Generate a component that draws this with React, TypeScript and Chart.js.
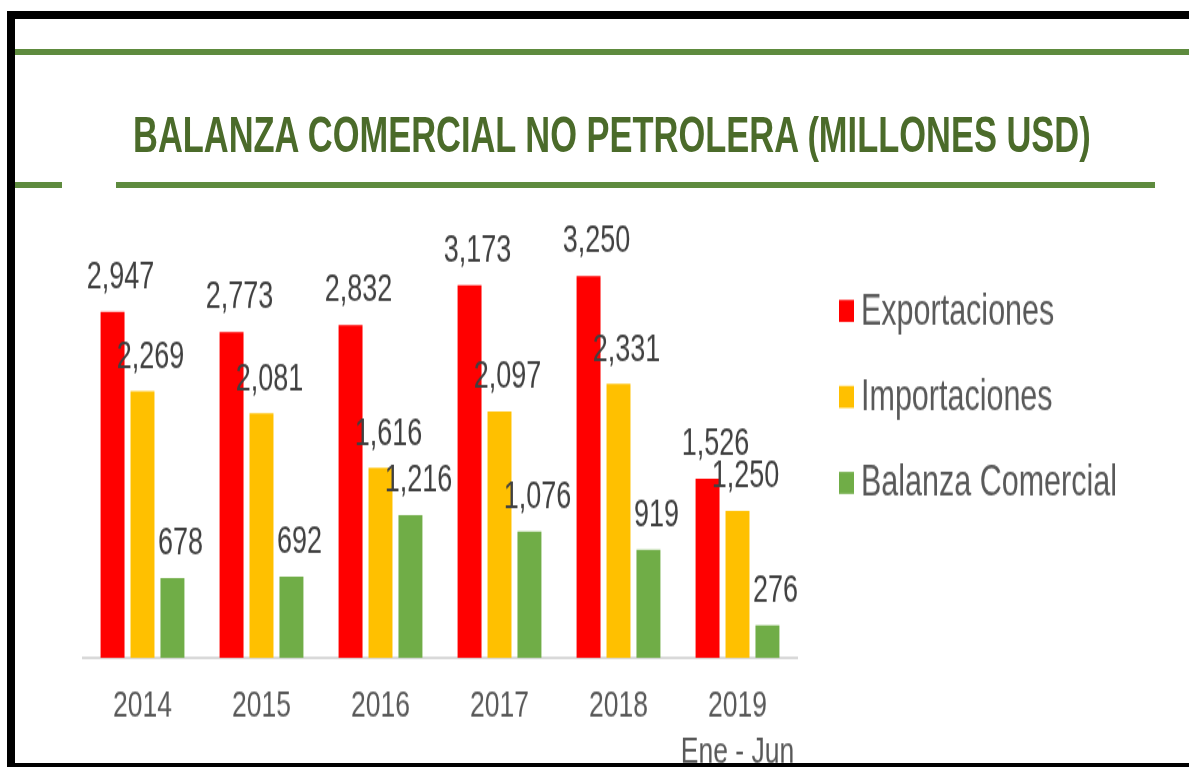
import React, { useEffect, useLayoutEffect, useRef, useState } from "react";
import { Chart, registerables } from "chart.js";

Chart.register(...registerables);

const categories: string[][] = [["2014"], ["2015"], ["2016"], ["2017"], ["2018"], ["2019", "Ene - Jun"]];
const exportaciones = [2947, 2773, 2832, 3173, 3250, 1526];
const importaciones = [2269, 2081, 1616, 2097, 2331, 1250];
const balanza = [678, 692, 1216, 1076, 919, 276];
const seriesNames = ["Exportaciones", "Importaciones", "Balanza Comercial"];
const seriesColors = ["#FF0000", "#FFC000", "#70AD47"];
const titleText = "BALANZA COMERCIAL NO PETROLERA (MILLONES USD)";

const FONT = "'Liberation Sans', Arial, sans-serif";

// The reference is a vertically stretched picture; the canvas is drawn at a
// reduced height and stretched back with CSS.
const W = 1189;
const H = 767;
const STRETCH = 1.4;
const HC = Math.round(H / STRETCH); // 548
const sy = (v: number) => v / STRETCH;

const valueLabelsPlugin = {
  id: "valueLabels",
  afterDatasetsDraw(chart: any) {
    const ctx = chart.ctx as CanvasRenderingContext2D;
    ctx.save();
    ctx.font = `27px ${FONT}`;
    ctx.fillStyle = "#404040";
    ctx.textAlign = "center";
    ctx.textBaseline = "middle";
    chart.data.datasets.forEach((ds: any, i: number) => {
      const meta = chart.getDatasetMeta(i);
      meta.data.forEach((bar: any, j: number) => {
        const v = ds.data[j] as number;
        ctx.fillText(v.toLocaleString("en-US"), bar.x + 8, bar.y - sy(34));
      });
    });
    ctx.restore();
  },
};

const sideLegendPlugin = {
  id: "sideLegend",
  afterDraw(chart: any) {
    const ctx = chart.ctx as CanvasRenderingContext2D;
    ctx.save();
    ctx.font = `30.5px ${FONT}`;
    ctx.textAlign = "left";
    ctx.textBaseline = "middle";
    chart.data.datasets.forEach((ds: any, i: number) => {
      const cy = sy(311 + i * 86);
      ctx.fillStyle = ds.backgroundColor;
      ctx.fillRect(839, cy - sy(11), 15, sy(22));
      ctx.fillStyle = "#595959";
      ctx.fillText(ds.label, 861, cy + 1);
    });
    ctx.restore();
  },
};

function ChartCanvas() {
  const ref = useRef<HTMLCanvasElement | null>(null);
  useEffect(() => {
    if (!ref.current) return;
    const bottom = sy(658);
    const chart = new Chart(ref.current, {
      type: "bar",
      data: {
        labels: categories as any,
        datasets: [exportaciones, importaciones, balanza].map((d, i) => ({
          label: seriesNames[i],
          data: d,
          backgroundColor: seriesColors[i],
          borderWidth: 0,
          categoryPercentage: 0.755,
          barPercentage: 0.8,
        })),
      },
      options: {
        responsive: false,
        animation: false,
        devicePixelRatio: 1,
        layout: { padding: { left: 83, right: W - 797, top: sy(188), bottom: 0 } },
        scales: {
          x: {
            grid: { display: false, drawTicks: false },
            border: { display: true, color: "#D9D9D9", width: 2 },
            ticks: {
              color: "#595959",
              font: { family: FONT, size: 26.5, lineHeight: 1.24 },
              padding: 18,
              maxRotation: 0,
              autoSkip: false,
            },
            afterFit: (scale: any) => {
              scale.height = HC - bottom;
            },
          },
          y: { display: false, min: 0, max: 4000 },
        },
        plugins: {
          legend: { display: false },
          tooltip: { enabled: false },
          title: { display: false },
        },
      },
      plugins: [valueLabelsPlugin, sideLegendPlugin],
    } as any);
    return () => chart.destroy();
  }, []);
  return (
    <canvas
      ref={ref}
      width={W}
      height={HC}
      style={{ position: "absolute", left: 0, top: 0, width: `${W}px`, height: `${H}px` }}
    />
  );
}

function Title() {
  const ref = useRef<HTMLSpanElement | null>(null);
  const [sx, setSx] = useState(1);
  useLayoutEffect(() => {
    if (ref.current) {
      const w = ref.current.offsetWidth;
      if (w > 0) setSx(958 / w);
    }
  }, []);
  return (
    <div
      style={{
        position: "absolute",
        left: 133,
        top: 110,
        lineHeight: "36px",
        whiteSpace: "nowrap",
        transform: `scale(${sx}, ${STRETCH})`,
        transformOrigin: "left top",
      }}
    >
      <span ref={ref} style={{ fontFamily: FONT, fontWeight: 700, fontSize: 36, color: "#4B6B2A" }}>
        {titleText}
      </span>
    </div>
  );
}

const box = (l: number, t: number, w: number, h: number, c: string): React.CSSProperties => ({
  position: "absolute",
  left: l,
  top: t,
  width: w,
  height: h,
  background: c,
});

export default function App() {
  return (
    <div style={{ position: "fixed", left: 0, top: 0, width: W, height: H, background: "#FFFFFF", overflow: "hidden" }}>
      <ChartCanvas />
      <div style={box(7, 11, 1182, 8, "#000000")} />
      <div style={box(7, 11, 8, 756, "#000000")} />
      <div style={box(7, 763, 1182, 4, "#000000")} />
      <div style={box(15, 49, 1174, 6, "#5E8B3E")} />
      <div style={box(15, 182, 47, 6, "#5E8B3E")} />
      <div style={box(116, 182, 1039, 6, "#5E8B3E")} />
      <Title />
    </div>
  );
}
